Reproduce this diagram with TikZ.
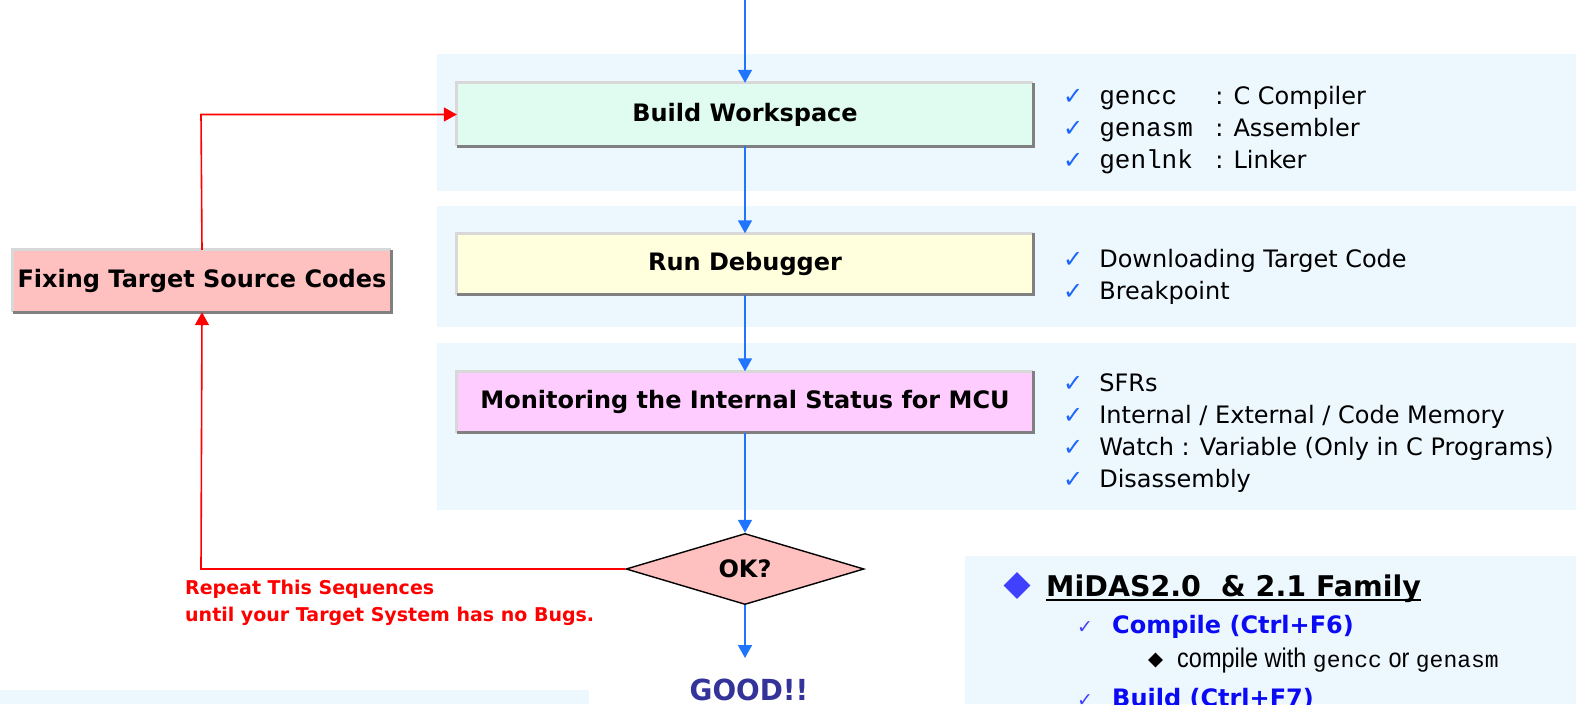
\documentclass[tikz,border=0pt]{standalone}
\usepackage{fontspec}
\setmainfont{DejaVu Sans}
\setmonofont{Liberation Mono}
\newfontfamily\symfont{DejaVu Sans}
\newfontfamily\narrowfont[FakeStretch=0.87]{Liberation Sans}
\usetikzlibrary{shapes.geometric,arrows.meta,calc}
\definecolor{panel}{HTML}{EDF7FE}
\definecolor{flowblue}{HTML}{1F75FE}
\definecolor{mint}{HTML}{E0FCF0}
\definecolor{cream}{HTML}{FFFFDD}
\definecolor{orchid}{HTML}{FFCCFF}
\definecolor{rose}{HTML}{FFC0C0}
\definecolor{bevellight}{HTML}{D8D8D8}
\definecolor{beveldark}{HTML}{808080}
\definecolor{goodblue}{HTML}{333399}
\definecolor{headblue}{HTML}{4040FF}
\definecolor{tickblue}{HTML}{1A66FF}
\definecolor{keyblue}{HTML}{0A0AF5}
\newcommand\tick{{\symfont\color{tickblue}\char"2713}}
\newcommand\bevel[1]{%
  \draw[bevellight,line width=3pt] (#1.south west) -- (#1.north west) -- (#1.north east);
  \draw[beveldark,line width=3pt] (#1.north east) -- (#1.south east) -- (#1.south west);}
\tikzset{
  stepbox/.style={fill=#1, minimum height=61pt, minimum width=576pt, inner sep=0pt,
    font=\fontsize{24}{28}\selectfont\bfseries},
  flow/.style={flowblue, line width=1.6pt, -{Triangle[length=13pt,width=14pt]}},
  back/.style={red, line width=1.6pt, -{Triangle[length=13pt,width=14pt]}},
  item/.style={anchor=base west, inner sep=0pt, font=\fontsize{24}{28}\selectfont},
  noteline/.style={anchor=base west, text=red, inner sep=0pt,
    font=\fontsize{19}{24}\selectfont\bfseries},
  keyitem/.style={anchor=base west, inner sep=0pt, text=keyblue,
    font=\fontsize{24}{28}\selectfont\bfseries},
  keytick/.style={anchor=base west, inner sep=0pt, text=headblue,
    font=\symfont\fontsize{19}{20}\selectfont},
}
\begin{document}
\begin{tikzpicture}[x=1pt,y=-1pt]
\useasboundingbox (0,0) rectangle (1576,704);
\clip (0,0) rectangle (1576,704);
% background bands
\fill[panel] (437,54) rectangle (1576,191);
\fill[panel] (437,206) rectangle (1576,327);
\fill[panel] (437,343) rectangle (1576,510);
\fill[panel] (0,690) rectangle (589,704);
\fill[panel] (965,556) rectangle (1576,704);

% process steps
\node[stepbox=mint, minimum height=63pt] (build) at (745,114.5) {Build Workspace};
\node[stepbox=cream] (run) at (745,264) {Run Debugger};
\node[stepbox=orchid] (mon) at (745,402) {Monitoring the Internal Status for MCU};
\node[stepbox=rose, minimum width=378pt, minimum height=62pt] (fix) at (202,281) {Fixing Target Source Codes};
\bevel{build}\bevel{run}\bevel{mon}\bevel{fix}

\node[diamond, draw=black, line width=1.4pt, fill=rose, minimum width=238pt, minimum height=59pt,
  inner sep=0pt, font=\fontsize{24}{28}\selectfont\bfseries] (ok) at (745,569) {OK?};
\node[text=goodblue, inner sep=0pt, anchor=base,
  font=\fontsize{29}{34}\selectfont\bfseries\addfontfeature{FakeStretch=0.96}] (good) at (749,700) {GOOD!!};

\coordinate (start) at (745,0);
\coordinate (okend) at (745,658);
\coordinate (turn1) at (201,569);
\coordinate (turn2) at (201,114.5);

% main flow
\draw[flow] (start) -- (build.north);
\draw[flow] (build.south) -- (run.north);
\draw[flow] (run.south) -- (mon.north);
\draw[flow] (mon.south) -- (ok.north);
\draw[flow] (ok.south) -- (okend);

% loop back
\draw[back] (ok.west) -- (turn1) -- (fix.south);
\draw[back] (fix.north) -- (turn2) -- (build.west);

\node[noteline] (note1) at (185,594) {Repeat This Sequences};
\node[noteline] (note2) at (185,621) {until your Target System has no Bugs.};

% tool lists
\node[item] (t1) at (1063,104) {\tick\hspace{16pt}\makebox[116pt][l]{\ttfamily\fontsize{26}{28}\selectfont gencc}: C Compiler};
\node[item] (t2) at (1063,136) {\tick\hspace{16pt}\makebox[116pt][l]{\ttfamily\fontsize{26}{28}\selectfont genasm}: Assembler};
\node[item] (t3) at (1063,168) {\tick\hspace{16pt}\makebox[116pt][l]{\ttfamily\fontsize{26}{28}\selectfont genlnk}: Linker};

\node[item] (d1) at (1063,267) {\tick\hspace{16pt}Downloading Target Code};
\node[item] (d2) at (1063,299) {\tick\hspace{16pt}Breakpoint};

\node[item] (m1) at (1063,391) {\tick\hspace{16pt}SFRs};
\node[item] (m2) at (1063,423) {\tick\hspace{16pt}Internal / External / Code Memory};
\node[item] (m3) at (1063,455) {\tick\hspace{16pt}Watch : Variable (Only in C Programs)};
\node[item] (m4) at (1063,487) {\tick\hspace{16pt}Disassembly};

% family notes
\node[diamond, fill=headblue, inner sep=0pt, minimum width=27pt, minimum height=27pt] (fb) at (1017,585.5) {};
\node[anchor=base west, inner sep=0pt, font=\fontsize{28.5}{32}\selectfont\bfseries] (fam) at (1046,596)
  {MiDAS2.0\ \ \&\ 2.1 Family};
\draw[line width=2pt] ($(fam.base west)+(0,3.5)$) -- ($(fam.base east)+(0,3.5)$);

\node[keytick] (ct) at (1077,633) {\char"2713};
\node[keyitem] (cmp) at (1112,633) {Compile (Ctrl+F6)};
\node[diamond, fill=black, inner sep=0pt, minimum width=15pt, minimum height=15pt] (cb) at (1155.5,660) {};
\node[anchor=base west, inner sep=0pt, font=\narrowfont\fontsize{27}{28}\selectfont] (cw) at (1177,667)
  {compile with {\ttfamily\fontsize{23}{24}\selectfont gencc} or {\ttfamily\fontsize{23}{24}\selectfont genasm}};
\node[keytick] (bt) at (1077,706) {\char"2713};
\node[keyitem] (bld) at (1112,706) {Build (Ctrl+F7)};
\end{tikzpicture}
\end{document}
